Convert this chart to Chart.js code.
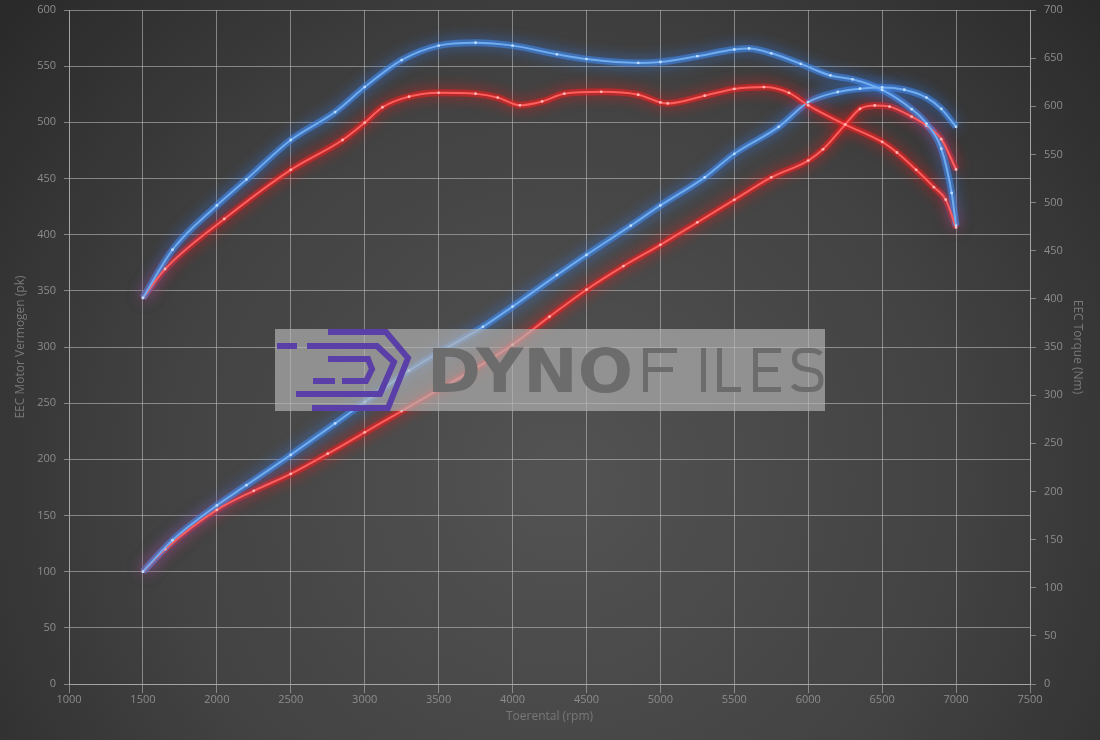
<!DOCTYPE html>
<html><head><meta charset="utf-8">
<script src="https://cdn.jsdelivr.net/npm/chart.js@4.4.1/dist/chart.umd.min.js"></script>
<style>html,body{margin:0;padding:0;background:#333;}#wrap{width:1100px;height:740px;}</style>
</head><body><div id="wrap"><canvas id="c" width="1100" height="740"></canvas></div>
<script>
// ---- data ----
const xTitle = 'Toerental (rpm)';
const yLeftTitle = 'EEC Motor Vermogen (pk)';
const yRightTitle = 'EEC Torque (Nm)';

const bluePowerRpm = [1500,1700,2000,2200,2500,2800,3000,3300,3500,3800,4000,4300,4500,4800,5000,5300,5500,5800,6000,6200,6350,6500,6650,6800,6900,7000];
const bluePowerPk  = [100,128,159,177,204,232,251,279,295,318,336,364,382,408,426,451,472,496,518,527,530,531,529,522,512,496];

const redPowerRpm = [1500,1650,2000,2250,2500,2750,3000,3250,3500,3750,4000,4250,4500,4750,5000,5250,5500,5750,6000,6100,6250,6350,6450,6550,6700,6800,6900,7000];
const redPowerPk  = [100,120,155,172,187,205,224,243,262,281,302,327,351,372,391,411,431,451,466,476,498,512,515,514,505,497,485,458];

const blueTorqueRpm = [1500,1700,2000,2200,2500,2800,3000,3250,3500,3750,4000,4300,4500,4850,5000,5250,5500,5600,5750,5950,6150,6300,6500,6700,6800,6900,6970,7000];
const blueTorqueNm  = [401,451,497,524,565,594,620,648,663,666,663,654,649,645,646,652,659,660,655,644,632,628,617,597,582,556,510,476];

const redTorqueRpm = [1500,1650,2050,2500,2850,3000,3120,3300,3500,3750,3900,4050,4200,4350,4600,4850,5000,5050,5300,5500,5700,5870,6000,6250,6500,6600,6730,6850,6930,7000];
const redTorqueNm  = [401,431,483,534,565,583,599,610,614,613,609,601,605,613,615,612,604,603,611,618,620,614,601,581,563,552,534,516,503,474];

const xMin = 1000, xMax = 7500, xStep = 500;
const pkMax = 600, nmMax = 700, yStep = 50;

function pts(xs, ys){ return xs.map((x,i)=>({x:x, y:ys[i]})); }

const RED_GLOW = 'rgba(225,35,35,0.6)', RED_SHADOW = 'rgba(255,20,20,1)', RED_CORE = '#ff5e5e', RED_PT = '#ffb4b4';
const BLUE_GLOW = 'rgba(65,135,230,0.6)', BLUE_SHADOW = 'rgba(50,130,255,1)', BLUE_CORE = '#70acf0', BLUE_PT = '#bcdcff';

function glowDs(data, axis, glow, shadow){
  return {data:data, yAxisID:axis, borderColor:glow, borderWidth:7, pointRadius:0,
    cubicInterpolationMode:'monotone', fill:false, order:10, glowColor:shadow, glowBlur:14};
}
function coreDs(data, axis, core, pt){
  return {data:data, yAxisID:axis, borderColor:core, borderWidth:2, pointRadius:1.4,
    pointBackgroundColor:pt, pointBorderWidth:0, cubicInterpolationMode:'monotone', fill:false, order:0};
}

const bp = pts(bluePowerRpm, bluePowerPk), rp = pts(redPowerRpm, redPowerPk);
const bt = pts(blueTorqueRpm, blueTorqueNm), rt = pts(redTorqueRpm, redTorqueNm);

const bgPlugin = {
  id:'bg',
  beforeDraw(chart){
    const ctx = chart.ctx, w = chart.width, h = chart.height;
    ctx.save();
    const g = ctx.createRadialGradient(560, 480, 20, 560, 480, 720);
    g.addColorStop(0, '#525252');
    g.addColorStop(0.55, '#424242');
    g.addColorStop(1, '#2a2a2a');
    ctx.fillStyle = g;
    ctx.fillRect(0,0,w,h);
    ctx.restore();
  }
};

const glowPlugin = {
  id:'glow',
  beforeDatasetDraw(chart, args){
    const ds = chart.data.datasets[args.index];
    if (ds.glowColor){ const ctx = chart.ctx; ctx.save(); ctx.shadowColor = ds.glowColor; ctx.shadowBlur = ds.glowBlur; }
  },
  afterDatasetDraw(chart, args){
    const ds = chart.data.datasets[args.index];
    if (ds.glowColor){ chart.ctx.restore(); }
  }
};

function seg(ctx, x1, y1, x2, y2){ ctx.beginPath(); ctx.moveTo(x1,y1); ctx.lineTo(x2,y2); ctx.stroke(); }

const watermarkPlugin = {
  id:'wm',
  afterDraw(chart){
    const ctx = chart.ctx;
    ctx.save();
    ctx.fillStyle = 'rgba(182,182,182,0.66)';
    ctx.fillRect(275, 329, 550, 82);
    // logo
    ctx.strokeStyle = '#5b3fa8';
    ctx.lineWidth = 6;
    ctx.lineJoin = 'miter';
    ctx.lineCap = 'butt';
    ctx.beginPath();
    ctx.moveTo(328,332); ctx.lineTo(386,332); ctx.lineTo(408,358); ctx.lineTo(388,408); ctx.lineTo(312,408);
    ctx.stroke();
    ctx.beginPath();
    ctx.moveTo(307,346); ctx.lineTo(377,346); ctx.lineTo(394,362); ctx.lineTo(380,394); ctx.lineTo(296,394);
    ctx.stroke();
    seg(ctx, 277,346, 297,346);
    ctx.beginPath();
    ctx.moveTo(328,359); ctx.lineTo(368,359); ctx.lineTo(372,369); ctx.lineTo(366,381); ctx.lineTo(342,381);
    ctx.stroke();
    seg(ctx, 313,381, 335,381);
    // text DYNO
    ctx.fillStyle = '#6c6c6c';
    ctx.textBaseline = 'alphabetic';
    ctx.font = 'bold 60px "DejaVu Sans"';
    const w1 = ctx.measureText('DYNO').width;
    ctx.save();
    ctx.translate(427, 392);
    ctx.scale(206 / w1, 1);
    ctx.fillText('DYNO', 0, 0);
    ctx.restore();
    // text FILES (thin strokes)
    ctx.strokeStyle = '#6c6c6c';
    ctx.lineWidth = 5;
    // F
    seg(ctx, 645.5,348, 645.5,392);
    seg(ctx, 643,350.5, 677,350.5);
    seg(ctx, 643,369.5, 673,369.5);
    // I
    seg(ctx, 703.5,348, 703.5,392);
    // L
    seg(ctx, 719.5,348, 719.5,392);
    seg(ctx, 717,389.5, 741,389.5);
    // E
    seg(ctx, 755.5,348, 755.5,392);
    seg(ctx, 753,350.5, 781,350.5);
    seg(ctx, 753,369.5, 778,369.5);
    seg(ctx, 753,389.5, 781,389.5);
    // S
    ctx.beginPath();
    ctx.moveTo(821,354);
    ctx.bezierCurveTo(818,351,814,350.5,810,350.5);
    ctx.lineTo(803,350.5);
    ctx.bezierCurveTo(797,350.5,794.5,354,794.5,359);
    ctx.bezierCurveTo(794.5,365,798,368,805,369);
    ctx.lineTo(811,370);
    ctx.bezierCurveTo(818,371,821,374,821,380);
    ctx.bezierCurveTo(821,386,818,389.5,811,389.5);
    ctx.lineTo(804,389.5);
    ctx.bezierCurveTo(799,389.5,795,388,793,385);
    ctx.stroke();
    ctx.restore();
  }
};

const tickFont = {family:'"Open Sans", "DejaVu Sans", sans-serif', size:11};
const titleFont = {family:'"Open Sans", "DejaVu Sans", sans-serif', size:12};
const tickColor = '#8c8c8c';
const titleColor = '#787878';
const gridColor = 'rgba(185,185,185,0.6)';
const plain = v => String(v);
function fitV(w){ return function(s){ s.width = w; s.paddingTop = 0; s.paddingBottom = 0; }; }

new Chart(document.getElementById('c'), {
  type:'line',
  data:{ datasets:[
    glowDs(bt,'yR',BLUE_GLOW,BLUE_SHADOW),
    glowDs(rt,'yR',RED_GLOW,RED_SHADOW),
    glowDs(bp,'y',BLUE_GLOW,BLUE_SHADOW),
    glowDs(rp,'y',RED_GLOW,RED_SHADOW),
    coreDs(bt,'yR',BLUE_CORE,BLUE_PT),
    coreDs(rt,'yR',RED_CORE,RED_PT),
    coreDs(bp,'y',BLUE_CORE,BLUE_PT),
    coreDs(rp,'y',RED_CORE,RED_PT)
  ]},
  options:{
    responsive:false, animation:false,
    layout:{padding:{top:10,left:0,right:0,bottom:0}},
    plugins:{legend:{display:false}, tooltip:{enabled:false}},
    scales:{
      x:{type:'linear', min:xMin, max:xMax,
        ticks:{stepSize:xStep, color:tickColor, font:tickFont, padding:0, maxRotation:0, callback:plain},
        grid:{color:gridColor, tickLength:9, lineWidth:1},
        border:{color:gridColor},
        title:{display:true, text:xTitle, color:titleColor, font:titleFont, padding:{top:0,bottom:16}},
        afterFit(s){ s.height = 56; }
      },
      y:{type:'linear', position:'left', min:0, max:pkMax,
        ticks:{stepSize:yStep, color:tickColor, font:tickFont, padding:8, callback:plain},
        grid:{color:gridColor, tickLength:5, lineWidth:1},
        border:{color:gridColor},
        title:{display:true, text:yLeftTitle, color:titleColor, font:titleFont, padding:{top:13,bottom:0}},
        afterFit: fitV(69)
      },
      yR:{type:'linear', position:'right', min:0, max:nmMax,
        ticks:{stepSize:yStep, color:tickColor, font:tickFont, padding:8, callback:plain},
        grid:{drawOnChartArea:false, color:gridColor, tickLength:6, lineWidth:1},
        border:{color:gridColor},
        title:{display:true, text:yRightTitle, color:titleColor, font:titleFont, padding:{top:15,bottom:0}},
        afterFit: fitV(70)
      }
    }
  },
  plugins:[bgPlugin, glowPlugin, watermarkPlugin]
});
</script>
</body></html>
